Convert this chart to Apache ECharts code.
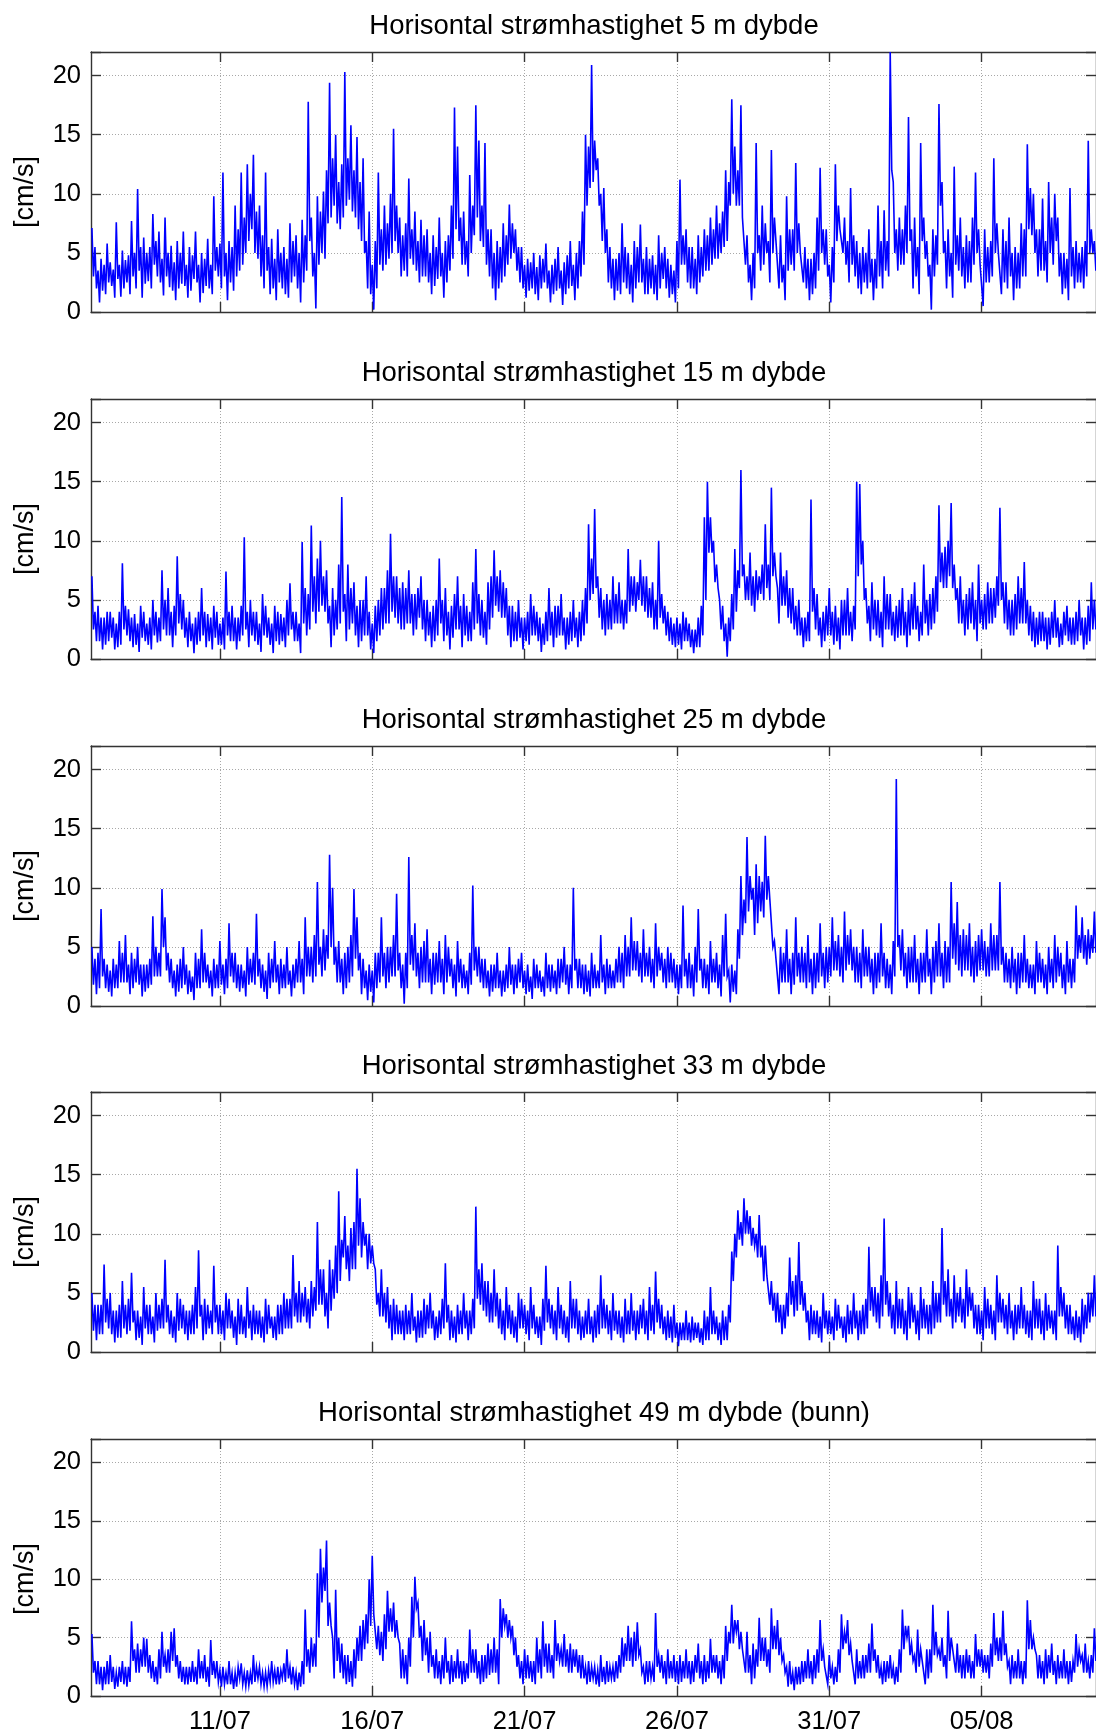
<!DOCTYPE html>
<html><head><meta charset="utf-8">
<script src="https://cdn.jsdelivr.net/npm/echarts@6/dist/echarts.min.js"></script>
<style>html,body{margin:0;padding:0;background:#fff}#c{width:1096px;height:1735px}</style>
</head><body><div id="c"></div>
<script>
// ---- text ----
const panelTitles = [
  'Horisontal strømhastighet 5 m dybde',
  'Horisontal strømhastighet 15 m dybde',
  'Horisontal strømhastighet 25 m dybde',
  'Horisontal strømhastighet 33 m dybde',
  'Horisontal strømhastighet 49 m dybde (bunn)'
];
const yAxisName = '[cm/s]';
// x ticks, in days since 1 July (day 10 = 11/07)
const xTickDays = [10, 15, 20, 25, 30, 35];
const xTickLabels = ['11/07', '16/07', '21/07', '26/07', '31/07', '05/08'];
const yTickLabels = ['0', '5', '10', '15', '20'];
// sampling: first sample at day 5.8, one every 0.05 day
const t0 = 5.8, dt = 0.05;

// ---- values (cm/s); one line per day ----
const v5m = [
7.1,3.0,5.5,2.0,
3.5,0.8,4.5,1.8,4.0,1.5,5.8,2.5,4.2,2.2,3.6,1.2,7.6,2.8,4.0,1.3,5.2,2.0,4.4,2.5,
4.8,1.5,7.7,3.0,5.0,2.0,10.4,3.5,5.5,1.2,6.3,2.4,5.0,2.6,5.5,2.0,8.3,4.0,6.0,3.0,
6.8,2.5,4.5,1.4,8.0,3.0,5.0,2.1,5.6,1.8,4.2,1.0,6.0,2.0,5.0,2.4,6.8,2.2,4.0,1.2,
5.5,1.8,4.8,2.8,6.8,2.5,4.0,0.8,5.0,1.6,4.5,2.2,6.2,2.0,4.0,1.5,9.8,3.5,5.5,3.0,
5.8,2.0,11.8,3.0,5.0,1.0,6.0,2.5,5.5,1.8,9.0,3.0,7.0,3.5,11.8,4.0,8.0,5.0,12.5,6.0,
10.0,7.0,13.3,5.0,8.5,4.5,9.0,3.0,6.5,2.0,11.8,3.5,5.5,1.5,6.2,2.0,4.5,1.0,7.0,2.5,
5.0,2.0,5.5,1.5,4.5,1.2,7.5,2.5,6.0,3.0,6.5,2.0,5.0,0.8,7.8,2.5,6.5,3.5,17.8,6.0,
8.0,3.0,5.0,0.3,9.8,4.0,8.5,5.0,10.2,4.5,12.0,7.5,19.4,8.0,13.0,9.0,15.0,7.5,11.0,7.0,
12.5,8.0,20.3,9.0,13.0,9.5,15.8,8.5,12.0,8.0,14.8,7.0,11.0,6.0,13.0,5.0,6.0,2.0,8.5,1.5,
4.0,0.2,6.0,2.0,11.8,4.0,7.0,3.5,9.0,4.0,7.5,4.5,10.0,5.0,15.5,6.0,9.0,5.0,8.0,3.0,
6.5,3.5,7.5,3.0,11.3,4.5,7.0,4.0,8.5,3.5,6.0,2.5,7.8,3.0,6.5,3.0,7.0,2.5,5.0,1.5,
6.5,2.2,5.5,2.8,8.0,3.0,5.0,1.2,6.0,2.5,6.5,3.5,9.0,4.5,17.3,7.0,14.0,6.0,8.0,4.0,
8.5,4.0,6.0,3.0,11.6,5.0,9.0,6.5,17.5,8.0,14.5,6.0,9.0,5.5,14.3,4.0,7.0,3.0,7.0,2.0,
5.0,1.0,6.0,2.0,5.5,2.5,7.5,3.0,6.5,4.0,9.1,4.5,7.5,5.0,7.0,3.5,5.5,2.5,5.5,2.0,
4.0,1.2,4.5,1.8,4.2,2.0,5.0,1.5,3.8,1.0,4.8,2.0,4.5,2.5,5.8,2.0,3.5,0.8,4.0,1.5,
4.5,1.8,5.5,2.0,3.5,0.6,4.2,1.5,4.8,2.0,6.0,2.2,4.0,1.0,5.0,2.0,6.0,3.0,8.5,4.0,
15.0,9.0,14.0,10.5,20.9,11.0,14.5,12.0,13.0,9.0,10.0,6.0,10.5,5.0,7.0,2.5,5.5,2.0,4.5,1.0,
4.5,1.8,5.0,1.5,7.5,2.5,5.5,2.0,5.0,1.5,4.0,0.8,6.0,2.0,5.5,2.5,7.4,2.5,4.5,1.5,
5.5,1.5,4.5,2.0,4.8,1.5,4.0,1.0,6.5,2.0,5.0,2.8,5.5,2.0,4.5,1.2,4.0,1.5,3.5,0.8,
6.0,2.0,11.2,4.0,6.5,4.0,7.0,2.5,5.5,2.0,5.5,2.0,4.5,1.5,6.5,2.5,5.5,3.0,7.0,3.5,
6.5,3.5,8.0,4.0,7.0,4.5,9.0,4.5,7.5,5.0,8.5,5.5,12.0,6.0,11.0,9.0,18.0,10.0,14.0,9.0,
12.0,9.0,17.5,8.0,8.0,4.0,6.5,2.5,4.0,1.0,5.0,2.0,14.3,5.0,6.5,3.5,9.0,4.0,7.5,5.0,
6.0,2.5,13.7,5.0,8.0,6.0,6.0,2.0,6.5,2.5,4.0,1.0,9.8,3.5,7.0,4.0,7.0,3.5,12.6,5.0,
7.5,5.0,5.0,2.5,5.5,2.0,4.5,1.0,4.5,1.5,5.0,2.0,8.0,3.5,12.2,5.0,7.0,4.0,7.0,3.0,
4.0,0.8,5.5,2.5,12.5,6.0,9.0,7.0,7.0,5.0,8.0,4.0,6.0,2.5,10.5,4.0,6.5,3.0,6.0,2.0,
5.0,1.5,5.5,2.5,5.0,2.0,7.0,2.5,4.5,1.0,4.5,2.0,9.0,3.0,6.0,2.0,8.6,3.5,6.0,3.0,
22.0,12.0,11.0,5.0,7.0,3.5,8.0,4.0,7.0,4.0,9.0,5.0,16.5,6.0,7.0,2.0,8.0,3.0,5.5,1.5,
14.3,6.0,8.0,4.5,6.0,3.0,4.0,0.2,7.0,3.0,6.5,4.0,17.6,9.0,11.0,5.0,6.0,2.0,7.0,3.0,
5.0,1.2,12.3,4.0,6.5,3.5,8.0,3.0,5.5,2.0,6.5,2.5,6.0,2.5,8.0,4.0,11.8,5.0,7.0,4.0,
4.0,0.5,7.0,2.5,5.5,2.5,6.0,3.0,13.0,5.0,7.5,5.0,5.0,1.5,7.0,2.5,6.0,2.0,8.0,3.0,
5.0,1.0,5.5,2.0,5.0,2.0,7.5,3.0,7.0,3.0,14.2,7.0,10.5,6.5,10.0,5.0,7.0,3.0,7.0,3.5,
9.6,3.5,6.0,2.5,11.0,5.0,8.0,4.0,10.0,6.0,8.0,3.0,5.0,1.5,5.0,2.0,4.5,1.0,10.5,3.0,
5.5,2.0,6.0,2.5,5.0,2.5,5.5,2.0,6.0,3.0,14.5,5.0,7.0,5.0,6.0,3.5
];
const v15m = [
7.0,2.5,4.0,1.5,
4.5,1.5,3.5,0.8,3.5,1.2,4.0,1.5,4.0,1.8,3.5,0.8,3.0,1.0,4.0,1.2,8.1,2.5,4.5,2.0,
4.2,1.5,3.5,1.0,3.8,1.2,3.0,0.6,4.5,1.8,4.0,1.5,3.0,1.2,3.5,0.8,5.0,2.0,4.0,1.4,
3.5,1.5,7.5,2.5,5.0,2.0,6.0,2.0,4.0,1.0,4.5,2.0,8.7,3.0,5.5,2.5,5.0,1.8,3.5,1.0,
4.0,1.5,3.0,0.5,3.5,1.2,4.0,1.5,6.0,2.0,4.0,1.0,3.8,1.5,3.5,0.8,4.5,1.8,4.0,1.2,
3.0,1.2,3.5,0.8,7.4,2.0,4.0,1.5,4.5,1.5,3.5,0.8,3.5,1.5,4.5,2.0,10.3,2.5,4.0,1.0,
5.0,2.0,4.0,1.5,4.0,1.2,3.0,0.6,5.5,2.0,4.5,1.8,3.5,1.2,3.0,0.5,4.5,1.5,4.0,1.2,
3.8,1.5,3.5,1.0,5.0,2.0,6.4,2.5,4.0,1.5,4.0,1.5,3.0,0.5,9.9,3.0,6.0,2.0,5.5,2.5,
11.3,4.0,7.0,3.0,8.5,4.0,10.0,4.5,7.0,4.0,7.5,3.0,4.5,1.0,6.0,2.0,5.0,2.5,8.0,3.0,
13.7,4.0,5.5,1.5,8.0,2.5,6.0,3.0,6.5,2.0,4.5,1.0,5.0,1.5,5.0,2.0,7.0,2.0,4.0,0.8,
3.0,0.5,4.5,1.5,5.0,2.0,6.0,2.5,6.0,3.0,7.5,3.0,10.6,4.0,7.0,3.5,7.0,3.0,6.0,2.5,
6.5,2.5,6.0,3.0,7.5,3.0,5.5,2.0,5.5,2.5,6.0,3.5,7.0,2.5,5.0,1.5,5.0,2.0,4.0,1.0,
4.5,1.5,5.0,2.0,8.5,3.0,5.0,1.5,6.0,2.0,4.0,0.8,4.5,1.8,5.5,2.5,7.0,2.5,4.5,1.0,
5.5,2.0,4.5,1.5,4.0,1.5,6.5,2.5,9.3,3.0,5.5,2.0,5.0,1.8,4.0,1.2,6.5,2.5,7.0,3.5,
9.2,4.5,7.0,4.0,7.5,3.5,6.5,3.5,6.0,2.0,4.5,1.0,4.5,1.5,4.0,1.5,5.0,1.8,3.5,0.8,
3.5,1.5,4.0,1.2,5.5,2.0,4.5,2.0,4.0,1.5,3.5,0.6,3.0,1.2,4.0,1.5,6.0,2.0,4.0,1.0,
4.5,1.8,4.5,2.0,5.5,2.0,3.5,0.8,3.5,1.2,4.0,1.5,5.0,1.8,3.5,1.0,4.0,1.5,5.0,2.0,
6.0,3.0,11.4,5.0,8.5,5.5,12.7,6.0,7.0,3.5,6.0,2.5,5.0,2.0,5.5,2.5,5.0,2.5,7.0,3.0,
5.5,3.0,6.5,3.0,5.0,2.5,5.0,3.0,9.3,4.0,7.0,4.5,7.0,4.0,6.5,5.0,8.4,4.5,7.0,4.0,
7.0,3.5,6.0,3.5,6.5,2.5,5.0,2.5,10.0,3.5,5.5,3.0,4.5,2.0,4.0,1.5,3.5,1.2,3.0,1.0,
3.5,1.2,3.0,0.8,4.0,1.5,3.5,1.5,3.0,1.0,2.5,0.5,2.5,1.0,3.5,1.0,4.5,2.0,12.0,5.0,
15.0,9.0,12.0,9.0,10.0,6.5,8.0,6.0,5.0,2.5,4.5,1.5,3.0,0.2,3.5,1.5,5.5,2.5,9.3,4.0,
7.5,6.0,16.0,7.0,8.0,5.0,7.0,5.0,9.0,4.5,7.0,4.0,7.5,5.0,7.0,5.5,8.0,5.0,11.4,6.0,
8.0,5.0,14.5,7.0,9.0,7.0,6.0,3.0,9.0,4.5,7.0,4.5,7.5,3.5,6.0,3.0,6.0,2.5,4.5,2.0,
5.0,2.0,3.5,1.0,3.5,1.5,4.0,1.5,13.5,4.0,6.0,2.5,5.5,2.0,3.5,1.0,4.0,1.5,4.5,2.0,
6.0,2.0,4.0,1.2,4.5,1.5,3.5,0.8,5.0,2.0,5.0,2.0,6.0,2.0,4.0,1.5,4.5,2.5,15.0,7.0,
14.8,8.0,10.0,5.0,6.0,3.0,4.5,1.5,6.5,2.5,5.0,2.0,5.0,1.8,4.0,1.0,7.0,2.5,5.5,2.5,
5.5,2.0,4.0,1.5,4.5,1.8,5.0,2.0,6.0,2.0,4.0,1.0,5.0,2.0,5.5,2.5,6.5,2.5,4.5,1.5,
4.0,2.0,8.0,3.0,5.0,2.0,5.5,2.5,6.0,3.0,7.0,4.0,13.0,6.5,9.0,6.0,9.5,6.0,10.0,7.0,
13.2,6.0,8.0,5.0,6.0,3.0,7.0,3.0,5.0,2.0,5.5,2.5,6.0,3.0,6.5,2.5,5.0,1.5,8.0,3.0,
5.0,2.5,5.5,2.5,6.5,3.0,6.0,3.0,6.0,3.5,7.0,4.5,12.8,5.0,6.5,3.0,6.5,2.5,5.0,2.0,
5.0,2.0,5.5,2.5,7.0,3.0,6.0,3.0,8.2,3.0,5.0,2.0,4.5,1.5,4.0,1.0,3.5,1.2,4.0,1.5,
4.0,1.5,3.5,0.8,3.5,1.2,4.0,1.8,5.0,1.8,3.5,1.0,3.0,1.2,4.0,2.0,4.5,1.5,3.5,1.2,
3.5,1.2,4.0,1.5,5.0,2.0,3.5,0.8,3.5,1.2,4.5,1.5,6.5,2.5,5.0,2.5
];
const v25m = [
5.0,1.8,4.0,1.0,
4.5,1.5,8.2,2.5,4.0,1.5,3.5,1.2,3.0,0.8,4.0,1.5,3.5,1.5,5.5,2.0,4.5,2.0,6.0,2.0,
3.5,1.0,4.5,1.5,4.0,2.0,5.0,1.8,3.5,0.8,3.5,1.2,3.5,1.5,4.0,1.8,7.6,2.5,5.0,2.5,
4.5,2.5,9.9,5.0,7.5,3.0,4.5,2.0,4.0,1.5,3.0,0.8,3.5,1.2,4.0,1.5,5.0,1.8,3.5,1.0,
3.0,1.2,2.5,0.5,4.5,1.5,4.0,1.5,6.5,2.0,4.5,2.0,3.5,1.5,3.0,0.8,4.0,1.5,3.5,1.5,
5.5,1.8,3.5,1.0,4.0,1.5,7.0,2.5,4.5,2.0,4.5,1.5,3.5,1.2,3.5,1.5,3.0,0.8,5.0,1.8,
4.0,2.0,4.5,1.8,7.8,2.5,4.0,1.5,3.5,1.2,3.0,0.6,4.5,1.5,4.0,2.0,5.5,2.0,3.5,1.0,
4.0,1.5,3.5,1.5,5.0,1.8,3.0,0.8,3.5,1.5,4.0,2.0,5.5,2.0,4.0,1.0,7.5,2.5,5.0,2.5,
5.0,2.0,6.0,2.5,10.5,3.5,5.0,2.5,6.5,3.0,6.0,4.0,12.8,5.0,10.0,3.5,5.0,2.0,5.5,2.0,
4.0,1.0,4.5,1.5,5.0,2.0,6.0,2.5,9.9,4.0,7.5,3.0,4.5,1.0,4.0,1.5,3.0,0.5,3.5,1.2,
3.0,0.3,4.5,1.5,4.5,2.0,7.5,2.5,4.5,1.5,5.0,2.0,5.0,2.5,6.0,2.5,9.5,3.0,4.5,1.5,
3.5,0.2,4.5,1.5,12.6,3.5,6.0,3.0,7.0,2.5,4.5,1.5,5.0,2.0,5.5,2.0,6.5,2.0,4.0,1.0,
4.5,1.8,4.5,2.0,5.5,2.0,4.0,1.0,6.0,2.0,5.0,2.5,4.0,1.5,3.5,0.8,5.5,2.0,4.0,1.5,
3.5,1.5,3.0,1.0,4.5,1.8,10.2,3.0,5.0,2.5,5.0,2.0,4.0,1.5,4.0,1.5,3.0,0.8,3.5,1.2,
3.5,1.5,4.5,1.5,3.0,0.8,3.0,1.2,3.5,1.5,5.0,1.8,3.5,1.0,3.5,1.5,4.0,2.0,4.5,1.5,
3.0,1.0,3.5,1.2,2.5,0.6,4.0,1.5,3.5,1.5,3.0,1.2,2.5,0.8,4.5,1.5,3.5,1.2,3.5,1.5,
3.0,1.0,4.0,1.5,4.0,2.0,5.0,1.8,3.5,1.0,3.5,1.5,10.0,3.0,4.0,1.5,4.0,1.5,3.5,1.0,
3.5,1.2,3.0,0.8,4.5,1.5,3.5,1.5,3.0,1.5,6.0,2.0,3.5,1.0,4.0,1.5,3.5,1.5,3.0,1.5,
4.0,2.0,5.0,2.0,4.5,1.5,6.0,2.5,5.0,2.5,7.5,3.0,5.5,3.0,5.5,2.5,4.5,2.0,6.5,2.5,
4.5,2.5,5.0,2.0,4.0,1.5,7.0,2.5,5.0,3.0,4.5,2.0,4.0,1.5,5.0,2.0,4.5,2.0,4.0,1.5,
3.5,1.0,3.5,1.5,8.5,2.5,4.0,1.5,4.5,1.5,3.5,0.8,5.0,2.0,8.2,3.0,4.0,1.5,4.0,1.5,
3.5,1.0,5.5,2.0,4.0,2.0,4.5,1.5,3.5,0.8,6.0,2.5,7.8,2.5,3.0,0.3,3.5,1.2,3.0,1.0,
6.5,4.0,11.0,6.0,9.0,7.0,14.3,8.0,11.0,9.0,10.0,6.0,12.0,7.0,11.0,8.0,10.5,7.5,14.4,9.0,
11.0,9.0,9.0,5.0,5.5,4.0,4.0,1.0,5.0,2.0,4.5,2.0,6.5,2.0,4.0,1.0,4.5,1.8,7.5,2.5,
4.5,2.0,5.0,2.0,4.5,1.5,6.0,2.0,4.0,1.0,4.5,1.5,4.5,2.0,7.0,2.5,4.5,1.5,5.0,2.0,
5.0,2.5,7.5,3.0,5.5,3.0,6.0,2.5,5.0,2.0,8.0,3.0,6.0,3.5,6.5,3.0,5.0,2.0,5.0,2.0,
4.5,1.5,6.5,2.5,5.0,2.5,5.0,2.0,4.0,1.0,4.5,1.5,4.5,2.0,7.0,2.5,4.5,1.5,4.0,1.5,
3.5,1.0,5.5,2.5,19.2,5.0,6.0,3.0,6.5,2.5,4.5,1.5,5.0,2.0,5.0,2.0,6.0,2.0,4.0,1.0,
4.5,2.0,4.5,2.0,6.5,2.5,4.0,1.0,5.0,2.0,5.5,2.5,7.0,2.5,4.5,1.5,5.5,2.0,5.0,2.0,
10.5,4.0,7.0,3.5,8.8,3.0,6.0,2.5,6.5,3.0,6.0,3.0,7.0,2.5,5.0,2.0,5.5,2.5,6.0,3.0,
6.5,3.0,5.5,2.5,5.0,2.5,7.0,3.0,6.0,3.0,6.0,3.0,10.5,3.5,5.0,2.0,4.5,2.0,4.0,1.5,
5.0,2.0,4.0,1.0,4.5,1.5,4.5,2.0,6.0,2.0,4.0,1.5,3.5,1.5,3.5,1.0,5.5,2.0,4.5,2.0,
4.0,1.5,3.5,1.0,5.0,2.0,4.0,1.5,6.0,2.0,5.0,2.5,4.5,1.5,3.5,1.0,5.5,2.0,4.0,1.5,
4.0,2.0,8.5,4.0,6.0,4.5,7.5,4.0,6.0,3.5,6.5,4.0,6.0,4.5,8.0,4.5
];
const v33m = [
5.0,1.8,4.0,1.0,
4.0,1.5,4.0,1.5,7.4,2.5,4.5,2.0,5.0,1.5,3.5,0.8,3.5,1.2,4.0,1.2,6.0,2.0,4.0,1.5,
4.5,1.8,6.7,2.5,3.5,1.0,3.5,1.2,3.0,0.6,5.5,2.0,4.0,1.5,4.0,1.5,3.0,0.8,5.0,1.8,
4.0,2.0,4.5,2.0,7.8,2.5,4.0,1.5,3.5,1.2,3.0,0.8,5.0,1.8,4.5,2.0,4.0,1.5,3.5,1.0,
3.5,1.5,4.0,1.5,5.5,2.0,8.6,3.0,4.0,1.0,4.5,1.5,4.0,2.0,3.5,1.5,7.3,2.5,4.0,1.5,
4.0,1.5,3.5,1.0,5.0,2.0,4.5,2.0,3.5,1.2,3.0,0.6,4.5,1.5,4.0,1.5,3.0,1.2,5.5,2.0,
3.5,1.0,4.0,1.5,3.5,1.5,3.5,1.2,3.0,0.8,4.5,1.5,4.0,2.0,3.0,1.2,3.0,1.0,4.0,1.5,
4.0,1.5,5.0,2.0,4.5,2.0,4.5,2.0,8.2,3.0,5.0,2.5,6.0,2.5,5.0,3.0,5.5,2.5,4.5,2.0,
6.0,3.0,5.5,3.5,11.0,4.0,7.0,4.0,7.0,3.0,5.0,2.0,7.8,3.5,7.0,4.5,9.0,5.0,13.6,6.0,
9.5,8.0,11.5,7.0,9.0,6.0,10.5,7.0,11.0,7.0,15.5,9.0,13.0,8.0,11.0,9.0,10.0,7.0,10.0,7.5,
9.0,7.5,7.0,4.0,5.0,3.0,7.0,3.0,5.0,2.5,5.5,2.0,4.0,1.0,4.5,1.5,4.0,1.5,3.5,1.5,
3.5,1.0,4.0,1.5,3.5,1.5,5.0,1.8,3.0,0.8,3.5,1.2,3.5,1.2,4.5,1.5,4.0,2.0,5.0,2.0,
3.5,1.0,3.0,1.2,3.5,1.5,4.5,2.0,7.5,2.5,4.0,1.0,3.5,1.2,3.0,0.8,4.0,1.5,3.5,1.5,
5.0,2.0,3.5,1.0,3.5,1.5,4.5,2.0,12.3,4.5,7.0,4.0,7.5,3.5,6.0,3.0,6.0,2.5,5.0,2.5,
7.0,3.0,5.0,2.0,4.5,1.5,3.5,1.0,5.5,2.0,4.0,1.5,3.5,1.2,3.0,0.8,5.0,2.0,4.5,2.0,
4.0,1.5,3.5,1.0,5.5,2.0,4.0,1.5,3.0,1.2,3.0,0.6,4.5,1.8,7.3,2.5,4.5,2.0,4.0,1.5,
3.5,1.0,5.5,2.0,4.0,1.5,3.5,1.2,3.0,0.8,6.0,2.0,4.5,2.0,4.5,1.5,3.5,1.0,3.0,1.2,
3.5,1.5,4.5,1.5,3.0,0.8,3.5,1.2,4.0,1.5,6.5,2.0,4.5,2.0,4.0,1.5,3.5,1.0,5.0,1.8,
3.5,1.5,3.5,1.2,3.0,0.8,4.5,1.5,3.5,1.5,5.0,1.8,3.5,1.0,3.5,1.5,4.0,2.0,4.5,1.5,
3.5,1.0,5.5,1.8,4.0,1.5,6.8,2.5,4.5,2.0,4.0,1.5,3.0,1.0,3.5,1.2,3.0,0.8,4.0,1.2,
2.5,0.5,2.5,1.0,2.5,1.0,3.5,1.0,2.5,0.8,3.0,1.0,2.5,1.2,2.5,0.8,2.0,0.6,3.5,1.0,
3.0,1.0,5.5,1.5,3.5,1.5,3.0,1.0,2.5,0.6,3.5,1.0,3.0,1.0,4.0,2.5,8.5,6.0,10.0,8.0,
12.0,9.5,11.0,9.0,13.0,10.0,12.0,10.0,11.5,9.0,10.5,9.0,10.0,8.0,11.6,8.0,9.0,6.0,9.0,6.5,
6.5,4.0,6.0,3.5,5.0,2.5,5.0,2.5,4.0,1.5,4.0,2.0,5.0,3.0,8.0,4.0,6.0,3.0,6.5,3.5,
9.3,4.0,6.0,3.5,5.0,2.5,3.5,1.0,4.0,1.5,3.5,1.5,3.5,1.2,3.0,0.8,5.0,2.0,3.5,1.5,
3.5,1.5,3.0,1.0,4.5,1.8,4.0,2.0,3.0,1.2,3.0,0.8,4.0,1.5,3.5,1.5,5.0,2.0,3.5,1.0,
3.5,1.5,4.0,1.5,4.5,2.0,8.9,3.5,5.5,3.0,5.5,2.5,5.0,2.0,6.5,3.0,11.3,4.0,6.0,3.0,
5.0,2.0,4.0,1.5,6.0,2.0,4.5,2.0,4.5,1.5,3.5,1.0,5.5,2.0,5.0,2.5,4.0,1.5,3.5,1.0,
5.5,2.0,4.5,2.0,4.0,1.5,4.0,1.5,6.0,2.0,5.0,2.5,5.0,2.5,10.5,4.0,6.0,3.0,7.0,3.0,
4.5,2.0,6.5,2.5,5.0,3.0,5.5,2.5,4.5,2.0,7.0,3.0,5.5,3.5,5.0,2.0,4.0,1.5,4.0,1.5,
3.5,1.0,5.5,2.0,4.5,2.0,4.0,1.5,3.5,1.0,6.5,2.5,5.0,2.5,4.5,2.0,4.0,1.5,5.0,2.0,
3.5,1.0,4.0,1.5,4.0,2.0,5.5,2.0,4.0,1.5,3.5,1.2,3.5,1.0,6.0,2.0,4.5,2.0,4.5,1.5,
3.5,1.0,5.0,1.8,4.0,2.0,3.5,1.5,3.5,1.0,9.0,3.0,5.5,3.0,5.0,2.0,4.0,1.5,4.0,1.5,
3.0,1.0,3.5,1.2,3.0,0.8,4.5,1.5,4.0,2.0,5.0,2.5,5.0,3.0,6.5,3.0
];
const v49m = [
5.3,2.0,3.0,1.0,
3.0,1.0,2.5,0.5,2.5,1.0,3.0,1.0,3.5,1.2,2.5,0.6,2.0,0.8,2.5,1.2,3.0,1.0,2.5,0.8,
2.5,1.2,6.4,3.0,4.0,2.0,4.5,2.0,4.0,2.5,5.0,2.5,4.9,2.0,3.5,1.5,3.0,1.2,2.5,1.0,
4.0,1.5,5.5,2.5,3.5,2.0,4.0,2.0,5.5,3.0,5.8,2.5,3.5,1.5,3.0,1.2,2.5,1.0,2.5,1.0,
2.5,1.2,3.0,1.2,2.5,1.0,4.0,1.5,3.0,1.5,3.5,1.2,2.5,0.8,4.8,1.8,3.0,1.5,3.0,1.2,
2.2,0.8,2.5,1.0,2.0,1.0,3.0,1.0,2.0,0.6,2.0,0.8,2.5,1.5,2.8,1.0,2.0,0.8,2.2,0.9,
2.0,1.0,3.5,1.2,2.5,1.5,2.5,1.0,2.0,0.8,2.0,0.8,2.2,1.2,3.0,1.2,2.2,1.0,2.5,1.0,
2.2,1.5,2.8,1.2,4.0,1.5,2.5,1.0,2.5,1.0,2.0,0.5,2.0,0.8,3.0,1.0,7.4,2.5,4.0,2.0,
5.0,2.5,4.5,2.5,10.5,5.0,12.6,8.0,11.0,9.0,13.3,6.0,8.0,6.0,5.0,1.5,9.1,3.0,5.0,2.0,
4.5,1.5,3.5,1.0,3.5,1.2,3.0,0.8,4.0,1.5,5.0,3.0,6.0,3.0,6.5,4.0,7.0,4.5,10.0,6.0,
12.0,7.0,7.0,4.0,6.0,3.5,5.5,3.0,7.0,4.0,9.0,5.5,7.5,5.5,8.0,5.0,6.5,5.0,4.5,1.5,
4.0,1.5,3.5,1.0,5.0,2.5,8.5,5.0,10.2,7.5,8.0,5.0,6.0,3.0,6.5,3.5,5.0,2.0,5.5,2.5,
3.5,1.5,4.0,1.5,3.0,1.0,3.5,1.5,5.0,2.0,3.0,1.0,3.5,1.2,3.0,1.5,4.0,1.5,3.0,1.0,
3.0,1.2,2.8,1.5,5.7,2.0,4.0,2.0,4.0,1.5,3.0,1.0,3.5,1.2,3.5,1.5,4.5,1.8,4.0,2.0,
5.0,2.0,4.0,1.0,8.3,5.0,7.5,6.0,7.0,5.0,6.5,5.0,6.0,3.5,5.0,2.5,3.5,1.5,3.0,1.0,
4.0,1.5,3.5,1.5,3.0,1.2,3.0,1.0,5.0,2.0,4.0,1.5,6.4,2.5,4.5,2.0,4.5,2.0,3.5,1.5,
6.5,3.0,4.5,3.0,4.0,2.5,5.3,2.5,4.0,2.0,4.5,2.0,4.0,2.5,4.0,2.0,3.5,1.5,3.5,1.5,
2.5,1.0,3.0,1.2,2.5,1.5,2.5,1.0,2.2,0.8,3.5,1.2,2.5,1.0,3.0,1.2,2.5,1.5,2.5,1.2,
3.0,1.5,3.5,2.0,5.0,2.5,4.5,3.0,6.0,3.0,5.0,2.5,5.5,3.0,6.3,3.5,4.0,2.0,2.5,1.0,
3.0,1.2,3.0,1.5,2.5,1.2,7.1,2.5,3.5,2.0,3.5,1.5,3.0,1.0,4.0,1.5,3.0,1.5,3.5,1.2,
3.0,1.0,3.5,1.2,3.0,1.5,4.0,1.5,3.0,1.0,3.0,1.2,3.5,2.0,4.5,1.5,3.0,1.0,3.5,1.2,
3.0,1.5,4.9,2.0,3.5,2.0,3.5,1.5,3.0,1.0,3.5,1.5,6.0,3.0,5.5,4.5,7.8,4.5,6.5,5.5,
6.5,4.0,5.5,4.0,4.0,2.0,5.5,2.0,3.5,1.0,4.5,1.5,4.0,2.5,6.7,3.0,5.0,3.0,5.0,2.5,
4.0,2.0,7.5,4.0,6.0,4.0,6.5,3.5,5.0,3.0,3.5,2.0,2.5,0.8,3.0,1.0,2.0,0.5,2.5,1.0,
2.5,1.0,3.0,1.2,3.0,1.5,4.0,1.5,3.0,1.0,3.5,1.5,4.0,2.0,6.5,3.0,4.0,2.5,2.5,1.0,
3.5,1.5,2.5,1.0,2.5,1.2,4.0,2.0,7.0,4.0,5.5,4.5,6.5,3.5,4.5,3.0,3.0,1.0,4.0,1.5,
3.0,1.5,3.5,1.5,3.5,2.0,4.5,2.0,6.2,3.0,4.0,2.0,3.5,1.5,2.5,1.0,3.0,1.2,3.0,1.5,
3.5,1.5,2.5,1.0,2.5,1.2,4.0,2.0,7.4,4.0,6.0,5.0,6.0,3.5,4.5,3.0,3.5,2.0,5.7,2.5,
4.0,3.0,3.0,1.0,4.0,1.5,4.0,2.0,7.8,3.5,5.5,3.5,4.0,3.0,5.0,2.5,3.5,1.5,7.3,3.0,
5.0,4.0,4.0,2.0,4.5,2.0,3.5,1.5,3.5,1.5,4.0,2.0,3.5,1.5,3.0,1.5,5.3,2.5,4.0,2.5,
4.0,2.0,3.5,2.0,3.5,1.5,4.5,2.5,7.1,3.5,5.0,3.0,5.0,3.0,7.3,3.5,4.5,2.5,3.0,1.0,
3.5,1.5,3.0,1.5,4.0,1.5,3.0,1.0,3.0,1.5,8.2,4.0,6.5,4.0,5.0,4.0,3.5,1.5,3.5,1.5,
3.0,1.0,4.0,1.5,3.5,2.0,4.5,1.8,3.0,1.0,3.5,1.5,3.0,1.5,4.0,1.5,3.0,1.0,3.0,1.2,
3.0,2.0,5.3,2.5,4.0,3.0,3.5,2.0,4.5,2.0,3.0,1.5,3.5,2.0,5.8,3.0
];
const seriesValues = [v5m, v15m, v25m, v33m, v49m];

// ---- layout ----
const gridLeft = 91, gridWidth = 1006, gridHeight = 260;
const gridTops = [52, 399, 746, 1092, 1439];
const xMin = 5.77, xMax = 38.754;
const FONT = '"Liberation Sans", Arial, Helvetica, sans-serif';
const axisColor = '#333333';
const gridLineStyle = { color: '#a8a8a8', width: 1, type: [1, 2] };

const grids = [], xAxes = [], yAxes = [], series = [], graphics = [];
gridTops.forEach((top, i) => {
  grids.push({ left: gridLeft, top: top, width: gridWidth, height: gridHeight });
  const isLast = i === gridTops.length - 1;
  xAxes.push({
    type: 'value', gridIndex: i, position: 'bottom', min: xMin, max: xMax,
    axisLine: { show: true, onZero: false, lineStyle: { color: axisColor, width: 1.4 } },
    axisTick: { show: true, inside: true, length: 10, customValues: xTickDays, lineStyle: { color: axisColor, width: 1.4 } },
    axisLabel: {
      show: isLast, customValues: xTickDays, margin: 13,
      fontSize: 25.5, fontFamily: FONT, color: '#000',
      formatter: v => { const k = xTickDays.indexOf(Math.round(v)); return k >= 0 ? xTickLabels[k] : ''; }
    },
    splitLine: { show: true, lineStyle: gridLineStyle }
  });
  xAxes.push({
    type: 'value', gridIndex: i, position: 'top', min: xMin, max: xMax,
    axisLine: { show: true, onZero: false, lineStyle: { color: axisColor, width: 1.4 } },
    axisTick: { show: true, inside: true, length: 10, customValues: xTickDays, lineStyle: { color: axisColor, width: 1.4 } },
    axisLabel: { show: false, customValues: xTickDays },
    splitLine: { show: false }
  });
  yAxes.push({
    type: 'value', gridIndex: i, position: 'left', min: 0, max: 22, interval: 5,
    axisLine: { show: true, onZero: false, lineStyle: { color: axisColor, width: 1.4 } },
    axisTick: { show: true, inside: true, length: 10, lineStyle: { color: axisColor, width: 1.4 } },
    axisLabel: { show: true, margin: 10, fontSize: 25.5, fontFamily: FONT, color: '#000',
      formatter: v => { const k = Math.round(v / 5); return yTickLabels[k] !== undefined && v % 5 === 0 ? yTickLabels[k] : ''; } },
    splitLine: { show: true, lineStyle: gridLineStyle }
  });
  yAxes.push({
    type: 'value', gridIndex: i, position: 'right', min: 0, max: 22, interval: 5,
    axisLine: { show: true, onZero: false, lineStyle: { color: axisColor, width: 1.4 } },
    axisTick: { show: true, inside: true, length: 10, lineStyle: { color: axisColor, width: 1.4 } },
    axisLabel: { show: false },
    splitLine: { show: false }
  });
  const vals = seriesValues[i];
  series.push({
    type: 'line', xAxisIndex: 2 * i, yAxisIndex: 2 * i,
    data: vals.map((v, k) => [t0 + k * dt, v]),
    showSymbol: false, symbol: 'none', sampling: null, clip: true,
    lineStyle: { color: '#0000ff', width: 1.6, join: 'miter' }, animation: false, silent: true
  });
  graphics.push({
    type: 'text', x: 594, y: top - 26,
    style: { text: panelTitles[i], font: '27.5px ' + FONT, fill: '#000', textAlign: 'center', textVerticalAlign: 'middle' }
  });
  graphics.push({
    type: 'text', x: 26, y: top + gridHeight / 2 + 10, rotation: Math.PI / 2,
    style: { text: yAxisName, font: '27px ' + FONT, fill: '#000', textAlign: 'center', textVerticalAlign: 'middle' }
  });
});

const chart = echarts.init(document.getElementById('c'), null, { renderer: 'canvas' });
chart.setOption({
  backgroundColor: '#ffffff',
  animation: false,
  grid: grids, xAxis: xAxes, yAxis: yAxes, series: series, graphic: graphics
});
</script>
</body></html>
